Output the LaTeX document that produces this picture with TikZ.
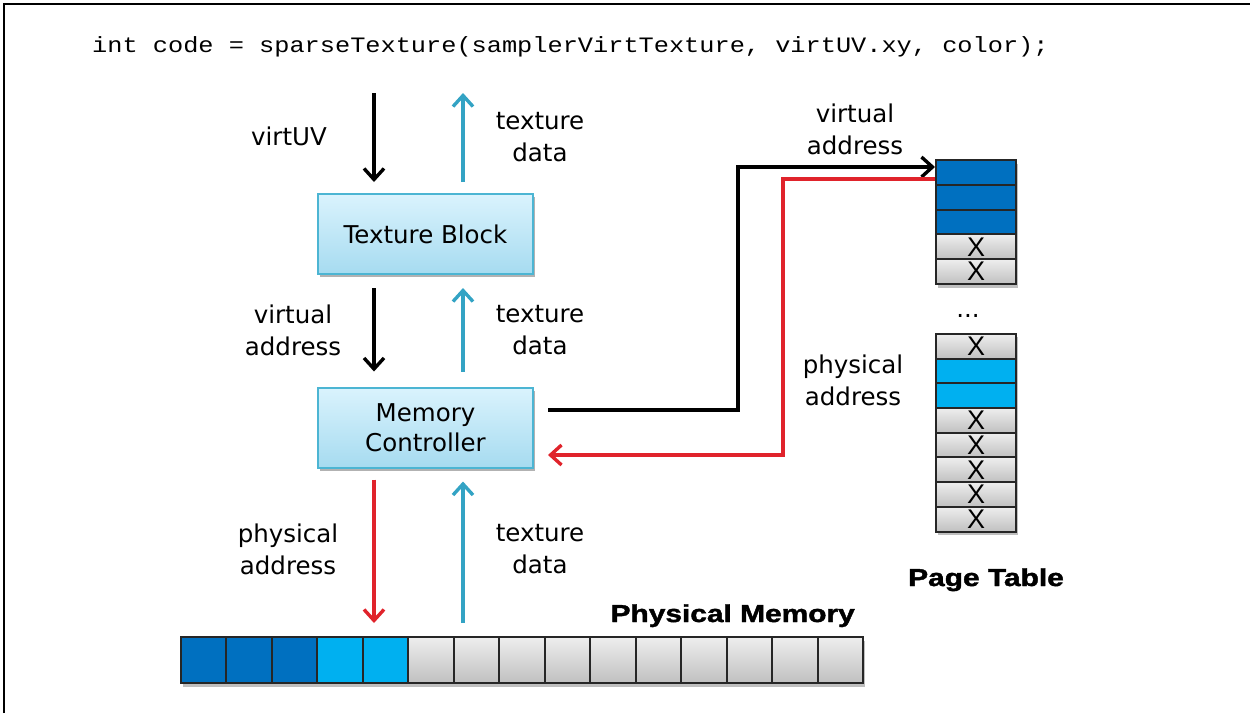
\documentclass[tikz,border=0pt]{standalone}
\usepackage{fontspec}
\setmainfont{DejaVu Sans}
\newfontfamily\codefont{Liberation Mono}
\newfontfamily\xfont{Liberation Sans}
\newfontfamily\heavyfont{Liberation Sans}[UprightFont={* Bold}, FakeBold=1.5]
\usetikzlibrary{arrows.meta,shadows}
\definecolor{boxtop}{HTML}{DAF3FD}
\definecolor{boxbot}{HTML}{A6DBF0}
\definecolor{boxedge}{HTML}{4CB5D3}
\definecolor{tealarrow}{HTML}{33A3C4}
\definecolor{redarrow}{HTML}{E0232B}
\definecolor{darkblue}{HTML}{0070C0}
\definecolor{cyanblue}{HTML}{00B0F0}
\definecolor{graytop}{HTML}{EEEEEE}
\definecolor{graybot}{HTML}{C0C0C0}
\tikzset{
  lbl/.style={align=center, font=\fontsize{24.5}{32}\selectfont},
  heavy/.style={font=\heavyfont\fontsize{24.5}{28}\selectfont},
  block/.style={draw=boxedge, line width=2pt, top color=boxtop, bottom color=boxbot,
    minimum width=215pt, minimum height=80pt, align=center,
    font=\fontsize{24.5}{31}\selectfont,
    drop shadow={shadow xshift=2pt, shadow yshift=-3pt, opacity=0.3, fill=black}},
  cellbase/.style={draw=black!85, line width=2pt, inner sep=0pt},
  gcell/.style={cellbase, top color=graytop, bottom color=graybot},
  dcell/.style={cellbase, fill=darkblue},
  ccell/.style={cellbase, fill=cyanblue},
  cshadow/.style={drop shadow={shadow xshift=1.5pt, shadow yshift=-3.5pt, opacity=0.25, fill=black}},
  memcell/.style={minimum width=45.47pt, minimum height=46pt},
  ptcell/.style={minimum width=80pt, minimum height=24.8pt, font=\xfont\fontsize{27}{27}\selectfont},
  barb/.style={-{Straight Barb[length=11pt,width=20pt]}},
  flow/.style={line width=3.4pt, barb},
  blkflow/.style={flow, draw=black},
  tealflow/.style={flow, draw=tealarrow},
  redflow/.style={flow, draw=redarrow},
  conn/.style={line width=3.4pt, line join=miter, barb},
}
\begin{document}
\begin{tikzpicture}[x=1pt,y=-1pt]
\useasboundingbox (0,0) rectangle (1250,713);
\draw[line width=2.2pt] (4,713) -- (4,4) -- (1250,4);

% code line
\node[anchor=base west, inner sep=0pt] (code) at (92,52)
  {\scalebox{1.15}[1]{\codefont\fontsize{22}{22}\selectfont int code = sparseTexture(samplerVirtTexture, virtUV.xy, color);}};

% blocks
\node[block] (tb) at (425.5,234) {Texture Block};
\node[block] (mc) at (425.5,427.5) {Memory\\[-1pt]Controller};

% free ends
\coordinate (topL) at (374,93);
\coordinate (topR) at (463,93);
\coordinate (memL) at (374,623);
\coordinate (memR) at (463,623);

% vertical arrows
\draw[blkflow] (topL) -- ([xshift=-51.5pt,yshift=11pt]tb.north);
\draw[tealflow] ([xshift=37.5pt,yshift=11pt]tb.north) -- (topR);
\draw[blkflow] ([xshift=-51.5pt,yshift=-13pt]tb.south) -- ([xshift=-51.5pt,yshift=15pt]mc.north);
\draw[tealflow] ([xshift=37.5pt,yshift=15pt]mc.north) -- ([xshift=37.5pt,yshift=-13pt]tb.south);
\draw[redflow] ([xshift=-51.5pt,yshift=-11pt]mc.south) -- (memL);
\draw[tealflow] (memR) -- ([xshift=37.5pt,yshift=-13pt]mc.south);

% labels
\node[lbl] (l1) at (289,136) {virtUV};
\node[lbl] (l2) at (540,137) {texture\\data};
\node[lbl] (l3) at (293,330) {virtual\\address};
\node[lbl] (l4) at (540,330) {texture\\data};
\node[lbl] (l5) at (288,549) {physical\\address};
\node[lbl] (l6) at (540,549) {texture\\data};
\node[lbl] (l7) at (855,129) {virtual\\address};
\node[lbl] (l8) at (853,380) {physical\\address};

% physical memory
\foreach \i in {1,...,15} {
  \ifnum\i<4 \def\st{dcell}\else\ifnum\i<6 \def\st{ccell}\else\def\st{gcell}\fi\fi
  \node[\st, memcell, cshadow] (m\i) at ({181+45.47*(\i-0.5)},660) {};
}
\node[heavy, anchor=base east, inner sep=0pt] (pmlbl) at (855,622) {\scalebox{1.22}[1]{Physical Memory}};

% page table upper
\foreach \i/\st/\t in {1/dcell/,2/dcell/,3/dcell/,4/gcell/X,5/gcell/X} {
  \node[\st, ptcell, cshadow] (pt\i) at (976,{160+24.8*(\i-0.5)}) {\t};
}
\node[lbl] (dots) at (968,316) {...};
% page table lower
\foreach \i/\st/\t in {1/gcell/X,2/ccell/,3/ccell/,4/gcell/X,5/gcell/X,6/gcell/X,7/gcell/X,8/gcell/X} {
  \node[\st, ptcell, cshadow] (pb\i) at (976,{334+24.7*(\i-0.5)}) {\t};
}
\node[heavy, anchor=base, inner sep=0pt] (ptlbl) at (986,586) {\scalebox{1.22}[1]{Page Table}};

% connectors
\coordinate (bendA) at (738,300);
\coordinate (bendB) at (783,300);
\coordinate (sA) at ([shift={(14,-17.5)}]mc.east);
\coordinate (eA) at ([yshift=5.4pt]pt1.west);
\draw[conn, draw=black] (sA) -- (sA -| bendA) |- (eA);
\coordinate (sB) at ([yshift=-6.6pt]pt1.west);
\coordinate (eB) at ([shift={(14,27.5)}]mc.east);
\draw[conn, draw=redarrow] (sB) -- (sB -| bendB) |- (eB);
\end{tikzpicture}
\end{document}
